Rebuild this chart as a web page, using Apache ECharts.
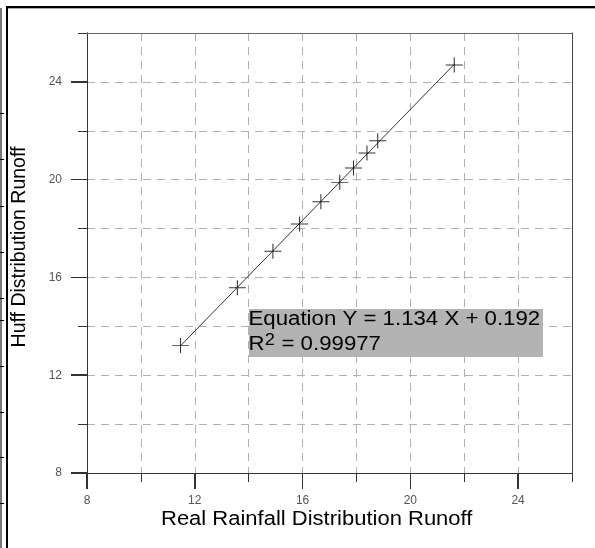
<!DOCTYPE html>
<html><head><meta charset="utf-8">
<script src="https://cdn.jsdelivr.net/npm/echarts@6/dist/echarts.min.js"></script>
<style>html,body{margin:0;padding:0;background:#fff}#c{width:595px;height:548px}</style>
</head><body><div id="c"></div>
<script>
// ---- data ----
const realRunoff = [11.47, 13.58, 14.90, 15.89, 16.68, 17.38, 17.89, 18.39, 18.79, 21.63];
const huffRunoff = [13.22, 15.58, 17.07, 18.19, 19.10, 19.89, 20.48, 21.09, 21.59, 24.69];
const fitLineX = [11.47, 21.63];
const fitLineY = [13.20, 24.72];
const majorTicks = [8, 12, 16, 20, 24];
const axisMin = 8;
const axisMax = 26;
const gridStep = 2;
const xTitle = 'Real Rainfall Distribution Runoff';
const yTitle = 'Huff Distribution Runoff';
const eqLine = 'Equation Y = 1.134 X + 0.192';
const r2Label = 'R';
const r2Sup = '2';
const r2Value = ' = 0.99977';

const FONT = '"Liberation Sans", Arial, sans-serif';
const MAJOR_LEN = 16;
const chart = echarts.init(document.getElementById('c'), null, {renderer: 'canvas'});

function crisp(p) {
  const d = Math.round(p * 2);
  return (d + 1) % 2 === 0 ? d / 2 : (d - 1) / 2;
}

function gridAxis(pos) {
  return {
    type: 'value', position: pos, min: axisMin, max: axisMax, interval: gridStep,
    axisLine: {show: true, onZero: false, lineStyle: {color: '#333', width: 1}},
    axisTick: {show: true, length: 9, lineStyle: {color: '#333', width: 1}},
    axisLabel: {show: false},
    splitLine: {show: true, lineStyle: {color: '#b0b0b0', type: [8, 6], width: 1}}
  };
}
function majorAxis(pos, margin) {
  return {
    type: 'value', position: pos, min: axisMin, max: axisMax,
    axisLine: {show: true, onZero: false, lineStyle: {color: '#333', width: 1}},
    axisTick: {show: true, length: MAJOR_LEN, customValues: majorTicks, lineStyle: {color: '#333', width: 1}},
    axisLabel: {show: true, customValues: majorTicks, margin: margin, color: '#555', fontSize: 12, fontFamily: FONT},
    splitLine: {show: false}
  };
}
function borderAxis(pos, color) {
  return {
    type: 'value', position: pos, min: axisMin, max: axisMax,
    axisLine: {show: true, onZero: false, lineStyle: {color: color, width: 1}},
    axisTick: {show: false}, axisLabel: {show: false}, splitLine: {show: false}
  };
}

const leftTicks = [113, 159, 206, 252, 298, 320, 366, 412, 457, 503];
const frame = [
  {type: 'rect', shape: {x: 0, y: 8, width: 2, height: 540}, style: {fill: '#777'}, silent: true},
  {type: 'rect', shape: {x: 6, y: 6, width: 589, height: 2}, style: {fill: '#000'}, silent: true},
  {type: 'rect', shape: {x: 8, y: 8, width: 587, height: 1}, style: {fill: '#aaa'}, silent: true},
  {type: 'rect', shape: {x: 6, y: 6, width: 2, height: 542}, style: {fill: '#000'}, silent: true}
];
leftTicks.forEach(function (y) {
  frame.push({type: 'rect', shape: {x: 0, y: y, width: 4, height: 1}, style: {fill: '#000'}, silent: true});
});

// major tick marks drawn through the axis scales: [axis flag (0 = x, 1 = y), value]
const majorTickData = majorTicks.map(function (v) { return [0, v]; })
  .concat(majorTicks.map(function (v) { return [1, v]; }));

chart.setOption({
  animation: false,
  backgroundColor: '#fff',
  grid: {left: 87, right: 23, top: 33, bottom: 75, containLabel: false, outerBoundsMode: 'none'},
  xAxis: [gridAxis('bottom'), majorAxis('bottom', 22), borderAxis('top', '#666')],
  yAxis: [gridAxis('left'), majorAxis('left', 25), borderAxis('right', '#444')],
  series: [
    {
      type: 'line', xAxisIndex: 0, yAxisIndex: 0,
      data: fitLineX.map(function (x, i) { return [x, fitLineY[i]]; }),
      symbol: 'none', lineStyle: {color: '#333', width: 1}, silent: true, z: 2
    },
    {
      type: 'scatter', xAxisIndex: 0, yAxisIndex: 0,
      data: realRunoff.map(function (x, i) { return [x, huffRunoff[i]]; }),
      symbol: 'path://M0,7.5L17,7.5M8.5,0L8.5,15', symbolSize: [17, 15],
      itemStyle: {color: 'rgba(0,0,0,0)', borderColor: '#000', borderWidth: 1}, z: 3
    },
    {
      type: 'custom', xAxisIndex: 0, yAxisIndex: 0, clip: false, silent: true, z: 4,
      data: majorTickData,
      encode: {x: 1, y: 1},
      renderItem: function (params, api) {
        const which = api.value(0);
        const v = api.value(1);
        if (which === 0) {
          const p = api.coord([v, axisMin]);
          const x = crisp(p[0]), y = p[1];
          return {type: 'line', shape: {x1: x, y1: y, x2: x, y2: y + MAJOR_LEN}, style: {stroke: '#333', lineWidth: 1}};
        }
        const p = api.coord([axisMin, v]);
        const x = p[0], y = crisp(p[1]);
        return {type: 'line', shape: {x1: x - MAJOR_LEN, y1: y, x2: x, y2: y}, style: {stroke: '#333', lineWidth: 1}};
      }
    }
  ],
  graphic: frame.concat([
    {type: 'rect', shape: {x: 249, y: 309, width: 294, height: 48}, style: {fill: '#b3b3b3'}, z: 100},
    {type: 'text', x: 248.5, y: 320, scaleX: 1.14, z: 101,
     style: {text: eqLine, font: '19.5px ' + FONT, fill: '#000', align: 'left', verticalAlign: 'middle'}},
    {type: 'group', x: 248.5, y: 345, scaleX: 1.14, z: 101, children: [
      {type: 'text', x: 0, y: 0, z: 101, style: {text: r2Label, font: '19.5px ' + FONT, fill: '#000', align: 'left', verticalAlign: 'middle'}},
      {type: 'text', x: 14.2, y: -4, z: 101, style: {text: r2Sup, font: '16px ' + FONT, fill: '#000', align: 'left', verticalAlign: 'middle'}},
      {type: 'text', x: 23.5, y: 0, z: 101, style: {text: r2Value, font: '19.5px ' + FONT, fill: '#000', align: 'left', verticalAlign: 'middle'}}
    ]},
    {type: 'text', x: 161, y: 519, scaleX: 1.1, z: 101,
     style: {text: xTitle, font: '20px ' + FONT, fill: '#000', align: 'left', verticalAlign: 'middle'}},
    {type: 'text', x: 20, y: 247, rotation: Math.PI / 2, z: 101,
     style: {text: yTitle, font: '19.5px ' + FONT, fill: '#000', align: 'center', verticalAlign: 'middle'}}
  ])
});
</script>
</body></html>
